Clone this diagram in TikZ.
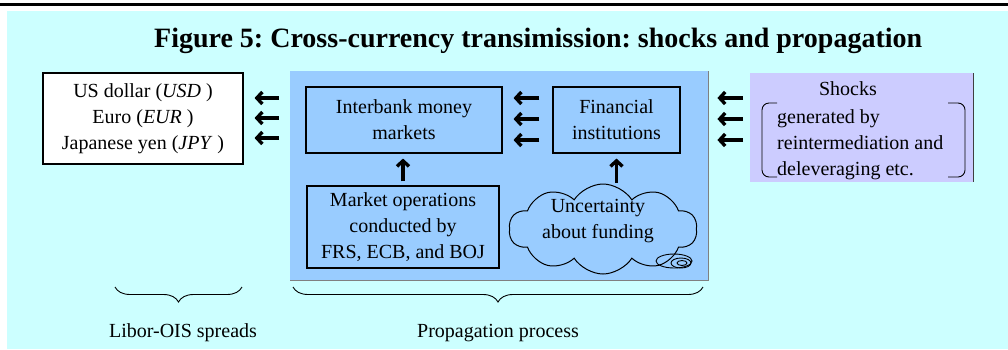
\documentclass[tikz,border=0pt]{standalone}
\usepackage{fontspec}
\setmainfont{Liberation Serif}
\usetikzlibrary{arrows.meta,shapes.symbols,decorations.pathreplacing,calc}
\definecolor{bgcyan}{HTML}{CCFFFF}
\definecolor{panelblue}{HTML}{99CCFF}
\definecolor{shocklav}{HTML}{CCCCFF}
\frenchspacing
\begin{document}
\begin{tikzpicture}[x=1pt,y=-1pt,
  body/.style={font=\fontsize{20}{26}\selectfont, align=center, inner sep=0pt},
  boxed/.style={draw, line width=1.1pt, inner sep=0pt},
  fat/.style={line width=3.4pt, -{Straight Barb[length=5.5pt,width=12pt]}},
  bracebelow/.style={decorate, decoration={brace, mirror, amplitude=15pt}, line width=0.9pt}]
\useasboundingbox (0,0) rectangle (1008,349);
\fill[white] (0,0) rectangle (1008,349);
\fill[bgcyan] (7,11) rectangle (1008,349);
\draw[line width=3pt] (0,4) -- (1008,4);

% title
\node[font=\fontsize{28}{32}\selectfont\bfseries, anchor=base west, inner sep=0pt] (title) at (154,47)
  {Figure 5: Cross-currency transimission: shocks and propagation};

% propagation panel and shocks panel
\node[fill=panelblue, minimum width=418, minimum height=209, inner sep=0pt, anchor=north west] (prop) at (290,71) {};
\draw[gray, line width=1pt] (prop.north east) -- (prop.south east) -- (prop.south west);
\node[fill=shocklav, minimum width=223, minimum height=109, inner sep=0pt, anchor=north west] (shk) at (750,73) {};
\draw[darkgray, line width=1pt] (shk.north east) -- (shk.south east);

% boxes
\node[boxed, fill=white, body, minimum width=200, minimum height=91] (cur) at (143,118.5)
  {US dollar (\textit{USD} )\\Euro (\textit{EUR} )\\Japanese yen (\textit{JPY} )};
\node[boxed, body, minimum width=196, minimum height=66] (ib) at (404,120) {Interbank money\\markets};
\node[boxed, body, minimum width=127, minimum height=66] (fin) at (616.5,120) {Financial\\institutions};
\node[boxed, body, minimum width=192, minimum height=82] (mo) at (403,227)
  {Market operations\\conducted by\\FRS, ECB, and BOJ};
\node[cloud, draw, line width=1pt, cloud puffs=10, cloud puff arc=115, cloud ignores aspect,
      minimum width=188, minimum height=90, inner sep=0pt] (unc) at (603,229) {};
\node[body] (unctext) at (598,221) {Uncertainty\\about funding};
% spiral tail of the cloud
\draw[line width=0.9pt] (674,261) ellipse [x radius=18, y radius=7];
\draw[line width=0.9pt] (681,263) ellipse [x radius=10, y radius=5];
\draw[line width=0.9pt] (682,263) ellipse [x radius=5, y radius=2.5];

% shocks text with brackets
\node[body, anchor=base] (shtitle) at (848,95) {Shocks};
\node[body, align=left, anchor=west] (shtext) at (777,145)
  {generated by\\reintermediation and\\deleveraging etc.};
\draw[line width=0.9pt, rounded corners=7pt] (777,103) -- (762,103) -- (762,177) -- (777,177);
\draw[line width=0.9pt, rounded corners=7pt] (948,103) -- (965,103) -- (965,177) -- (948,177);

% arrows
\foreach \y in {98,118,138}
  \draw[fat, shorten <=11pt, shorten >=11pt] (prop.west |- 0,\y) -- (cur.east |- 0,\y);
\foreach \y in {98,119,140}
  \draw[fat, shorten <=13pt, shorten >=11pt] (fin.west |- 0,\y) -- (ib.east |- 0,\y);
\foreach \y in {98,119,140}
  \draw[fat, shorten <=7pt, shorten >=9pt] (shk.west |- 0,\y) -- (prop.east |- 0,\y);
\draw[fat, shorten <=4pt, shorten >=5pt] (mo.north) -- (mo.north |- ib.south);
\coordinate (cloudtop) at (fin.south |- 0,183);
\draw[fat, shorten >=5pt] (cloudtop) -- (fin.south);

% braces and captions
\coordinate (lbA) at (115,287); \coordinate (lbB) at (242,287);
\coordinate (pbA) at (293,287); \coordinate (pbB) at (703,287);
\draw[bracebelow] (lbA) -- (lbB);
\draw[bracebelow] (pbA) -- (pbB);
\node[body, anchor=base] (lib) at (183,337) {Libor-OIS spreads};
\node[body, anchor=base] (pp) at (498,337) {Propagation process};
\end{tikzpicture}
\end{document}
